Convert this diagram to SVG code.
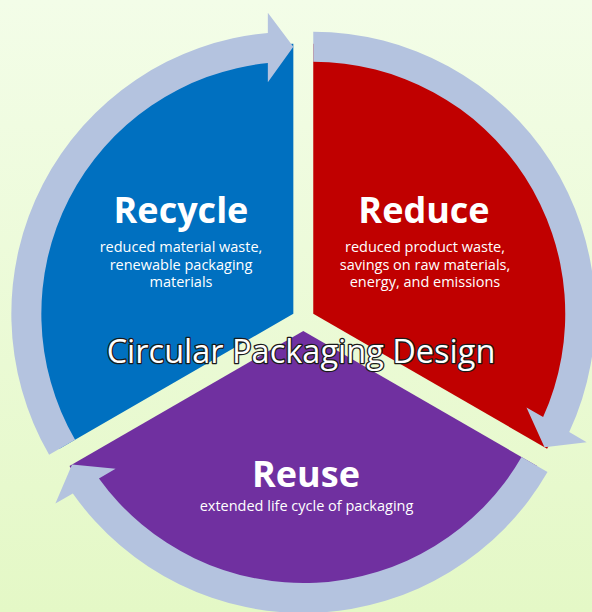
<svg xmlns="http://www.w3.org/2000/svg" width="592" height="612" viewBox="0 0 592 612">
  <defs>
    <linearGradient id="bg" x1="0" y1="0" x2="0" y2="1">
      <stop offset="0" stop-color="#F3FDE8"/>
      <stop offset="1" stop-color="#E4F8C6"/>
    </linearGradient>
    <style>
      .head { font-family: "Open Sans", "Liberation Sans", sans-serif; font-weight: 700; font-size: 36px; fill: #FFFFFF; text-anchor: middle; }
      .sub { font-family: "Open Sans", "Liberation Sans", sans-serif; font-size: 14.5px; fill: #FFFFFF; text-anchor: middle; }
      .title { font-family: "Open Sans", "Liberation Sans", sans-serif; font-size: 32.5px; fill: #FFFFFF; stroke: #1A1A1A; stroke-width: 2.6; paint-order: stroke fill; stroke-linejoin: round; text-anchor: middle; }
      .ring { fill: #B4C3DF; }
    </style>
  </defs>

  <!-- backdrop -->
  <rect x="0" y="0" width="592" height="612" fill="url(#bg)"/>

  <!-- Recycle segment (upper left) -->
  <g id="node-recycle">
    <path d="M 293.34 313.75 L 59.51 448.75 A 270 270 0 0 1 293.34 43.75 Z" fill="#0070C0"/>
    <text class="head" x="181" y="223">Recycle</text>
    <text class="sub" x="181" y="252">reduced material waste,</text>
    <text class="sub" x="181" y="269.5">renewable packaging</text>
    <text class="sub" x="181" y="287">materials</text>
  </g>

  <!-- Reduce segment (upper right) -->
  <g id="node-reduce">
    <path d="M 313.26 313.75 L 313.26 43.75 A 270 270 0 0 1 547.09 448.75 Z" fill="#C00000"/>
    <text class="head" x="424" y="223">Reduce</text>
    <text class="sub" x="425" y="252">reduced product waste,</text>
    <text class="sub" x="425" y="269.5">savings on raw materials,</text>
    <text class="sub" x="425" y="287">energy, and emissions</text>
  </g>

  <!-- Reuse segment (bottom) -->
  <g id="node-reuse">
    <path d="M 303.3 331 L 537.13 466 A 270 270 0 0 1 69.47 466 Z" fill="#7030A0"/>
    <text class="head" x="306" y="487">Reuse</text>
    <text class="sub" x="306.5" y="511">extended life cycle of packaging</text>
  </g>

  <!-- curved arrows running clockwise around the segments -->
  <g id="connectors" class="ring">
    <path d="M 49.12 454.75 A 282 282 0 0 1 267.84 32.9 L 267.84 12.75 L 293.34 46.75 L 267.84 82.25 L 267.84 63.05 A 252 252 0 0 0 75.10 439.75 Z"/>
    <path d="M 313.26 31.75 A 282 282 0 0 1 569.23 432.10 L 586.68 442.17 L 544.49 447.25 L 526.49 407.42 L 543.12 417.02 A 252 252 0 0 0 313.26 61.75 Z"/>
    <path d="M 547.52 472 A 282 282 0 0 1 72.83 493.51 L 55.38 503.58 L 72.07 464.5 L 115.57 468.83 L 98.94 478.43 A 252 252 0 0 0 521.54 457 Z"/>
  </g>

  <!-- centre caption -->
  <g id="title">
    <text class="title" x="301" y="363">Circular Packaging Design</text>
  </g>
</svg>
